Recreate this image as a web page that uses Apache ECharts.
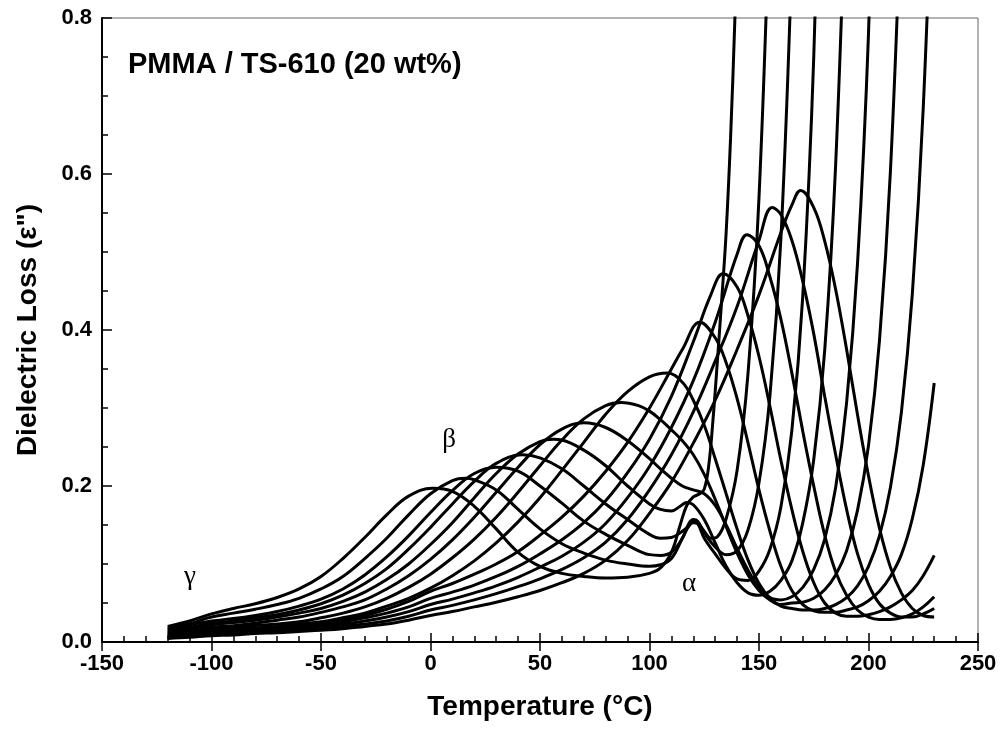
<!DOCTYPE html>
<html>
<head>
<meta charset="utf-8">
<script src="https://cdn.jsdelivr.net/npm/echarts@6/dist/echarts.min.js"></script>
<style>
html, body { margin: 0; padding: 0; background: #fff; }
#chart { width: 1002px; height: 740px; }
</style>
</head>
<body>
<div id="chart"></div>
<script>
// axis ranges
var tempRange = [-150, 250];
var lossRange = [0, 0.8];

// dielectric loss vs temperature, one array per frequency (low -> high)
var loss1 = [[-120,.020],[-110,.027],[-100,.036],[-90,.043],[-80,.049],[-70,.057],[-60,.068],[-50,.084],[-40,.107],[-30,.134],[-20,.163],[-10,.187],[1,.197],[10,.193],[20,.174],[30,.145],[40,.115],[50,.097],[60,.088],[70,.084],[80,.082],[90,.083],[100,.088],[105,.095],[110,.115],[114,.15],[117,.175],[120,.186],[123,.19],[125,.196],[127,.225],[129,.285],[131,.36],[133,.44],[135,.525],[137,.645],[139,.80],[141,.98]];
var loss2 = [[-120,.018],[-110,.0235],[-100,.032],[-90,.037],[-80,.042],[-70,.048],[-60,.056],[-50,.068],[-40,.084],[-30,.107],[-20,.133],[-10,.163],[0,.19],[10,.207],[16,.21],[20,.208],[30,.195],[40,.17],[50,.145],[60,.126],[70,.114],[80,.105],[90,.1],[100,.097],[105,.099],[110,.107],[115,.133],[118,.149],[120,.153],[122,.152],[125,.142],[128,.133],[131,.135],[135,.158],[140,.22],[145,.345],[150,.57],[155,.96]];
var loss3 = [[-120,.0165],[-110,.022],[-100,.027],[-90,.03],[-80,.034],[-70,.039],[-60,.046],[-50,.055],[-40,.068],[-30,.086],[-20,.109],[-10,.136],[0,.166],[10,.194],[20,.216],[30,.224],[40,.219],[50,.2],[60,.178],[70,.155],[80,.138],[90,.124],[100,.112],[105,.111],[110,.115],[115,.133],[118,.152],[120,.157],[122,.155],[125,.14],[130,.122],[135,.112],[140,.117],[145,.144],[150,.204],[155,.316],[160,.517],[165,.876]];
var loss4 = [[-120,.015],[-110,.019],[-100,.024],[-90,.027],[-80,.031],[-70,.035],[-60,.041],[-50,.049],[-40,.06],[-30,.075],[-20,.094],[-10,.119],[0,.147],[10,.177],[20,.206],[30,.229],[42,.24],[50,.236],[60,.222],[70,.2],[80,.177],[90,.157],[100,.138],[105,.133],[110,.134],[115,.142],[118,.149],[120,.155],[122,.152],[125,.133],[130,.113],[135,.094],[140,.081],[145,.079],[150,.091],[155,.119],[160,.173],[165,.271],[170,.444],[175,.75],[180,1.28]];
var loss5 = [[-120,.0135],[-110,.017],[-100,.022],[-90,.025],[-80,.028],[-70,.032],[-60,.037],[-50,.043],[-40,.052],[-30,.064],[-20,.08],[-10,.1],[0,.125],[10,.153],[20,.185],[30,.216],[40,.241],[50,.257],[56,.26],[60,.259],[70,.246],[80,.226],[90,.2],[100,.177],[105,.17],[110,.168],[114,.174],[117,.179],[120,.176],[125,.157],[130,.127],[135,.097],[140,.076],[145,.063],[150,.06],[155,.065],[160,.079],[165,.104],[170,.153],[175,.234],[180,.374],[185,.612],[190,1.01]];
var loss6 = [[-120,.012],[-110,.015],[-100,.019],[-90,.021],[-80,.024],[-70,.028],[-60,.032],[-50,.038],[-40,.045],[-30,.054],[-20,.068],[-10,.085],[0,.106],[10,.131],[20,.16],[30,.192],[40,.224],[50,.253],[60,.273],[70,.281],[80,.275],[90,.258],[100,.235],[105,.222],[110,.21],[115,.2],[120,.195],[125,.19],[130,.175],[135,.15],[140,.12],[145,.092],[150,.07],[155,.057],[160,.054],[165,.058],[170,.07],[175,.093],[180,.132],[185,.198],[190,.307],[195,.486],[200,.78],[205,1.27]];
var loss7 = [[-120,.0105],[-110,.013],[-100,.017],[-90,.019],[-80,.021],[-70,.023],[-60,.026],[-50,.031],[-40,.037],[-30,.045],[-20,.056],[-10,.07],[0,.087],[10,.108],[20,.132],[30,.16],[40,.192],[50,.226],[60,.259],[70,.286],[80,.303],[87,.307],[95,.303],[100,.296],[105,.285],[110,.272],[115,.258],[120,.24],[125,.215],[130,.183],[135,.148],[140,.114],[145,.086],[150,.066],[155,.054],[160,.048],[165,.05],[170,.051],[175,.056],[180,.067],[185,.086],[190,.117],[195,.169],[200,.252],[205,.386],[210,.603],[215,.953]];
var loss8 = [[-120,.0095],[-110,.011],[-100,.014],[-90,.016],[-80,.018],[-70,.02],[-60,.023],[-50,.026],[-40,.031],[-30,.037],[-20,.046],[-10,.056],[0,.069],[10,.085],[20,.104],[30,.127],[40,.154],[50,.185],[60,.22],[70,.256],[80,.292],[90,.321],[100,.34],[108,.345],[115,.333],[120,.31],[125,.278],[130,.235],[135,.19],[140,.145],[145,.105],[150,.075],[155,.056],[160,.046],[165,.043],[170,.041],[175,.041],[180,.043],[185,.048],[190,.057],[195,.072],[200,.097],[205,.136],[210,.198],[215,.294],[220,.446],[225,.685],[230,1.06]];
var loss9 = [[-120,.0085],[-110,.011],[-100,.013],[-90,.015],[-80,.017],[-70,.019],[-60,.021],[-50,.024],[-40,.028],[-30,.034],[-20,.042],[-10,.052],[0,.065],[10,.075],[20,.087],[30,.1],[40,.116],[50,.137],[60,.16],[70,.187],[80,.219],[90,.256],[100,.3],[110,.35],[115,.375],[123,.41],[130,.39],[135,.358],[140,.312],[145,.255],[150,.195],[155,.142],[160,.097],[165,.066],[170,.048],[175,.04],[180,.038],[185,.038],[190,.041],[195,.045],[200,.053],[205,.065],[210,.084],[215,.112],[220,.158],[225,.227],[230,.332]];
var loss10 = [[-120,.0075],[-110,.0095],[-100,.012],[-90,.0135],[-80,.0155],[-70,.0175],[-60,.0195],[-50,.022],[-40,.026],[-30,.031],[-20,.037],[-10,.045],[0,.056],[10,.064],[20,.073],[30,.084],[40,.097],[50,.113],[60,.131],[70,.153],[80,.181],[90,.217],[100,.26],[110,.315],[120,.385],[128,.445],[133.6,.472],[140,.455],[145,.418],[150,.366],[155,.302],[160,.233],[165,.17],[170,.116],[175,.076],[180,.05],[185,.037],[190,.033],[195,.033],[200,.035],[205,.039],[210,.045],[215,.054],[220,.066],[225,.085],[230,.111]];
var loss11 = [[-120,.0065],[-110,.0085],[-100,.011],[-90,.0125],[-80,.014],[-70,.016],[-60,.018],[-50,.02],[-40,.023],[-30,.027],[-20,.032],[-10,.039],[0,.048],[10,.055],[20,.063],[30,.072],[40,.083],[50,.096],[60,.11],[70,.128],[80,.152],[90,.185],[100,.225],[110,.275],[120,.335],[130,.41],[140,.497],[144.5,.522],[150,.508],[155,.468],[160,.414],[165,.345],[170,.27],[175,.2],[180,.137],[185,.09],[190,.06],[195,.041],[200,.032],[205,.029],[210,.029],[215,.031],[220,.036],[225,.045],[230,.058]];
var loss12 = [[-120,.0055],[-110,.0075],[-100,.0095],[-90,.011],[-80,.0125],[-70,.014],[-60,.0155],[-50,.017],[-40,.02],[-30,.023],[-20,.027],[-10,.033],[0,.041],[10,.047],[20,.054],[30,.062],[40,.071],[50,.081],[60,.093],[70,.108],[80,.128],[90,.157],[100,.195],[110,.24],[120,.295],[130,.36],[140,.43],[150,.515],[156,.557],[160,.548],[165,.515],[170,.462],[175,.395],[180,.315],[185,.24],[190,.17],[195,.113],[200,.074],[205,.049],[210,.037],[215,.032],[220,.032],[225,.036],[230,.043]];
var loss13 = [[-120,.0045],[-110,.006],[-100,.008],[-90,.009],[-80,.011],[-70,.012],[-60,.0135],[-50,.015],[-40,.017],[-30,.02],[-20,.023],[-10,.028],[0,.034],[10,.039],[20,.045],[30,.051],[40,.058],[50,.066],[60,.076],[70,.088],[80,.105],[90,.13],[100,.165],[110,.205],[120,.255],[130,.31],[140,.375],[150,.445],[160,.525],[165,.56],[169,.579],[175,.557],[180,.514],[185,.452],[190,.375],[195,.291],[200,.213],[205,.146],[210,.096],[215,.063],[220,.043],[225,.034],[230,.032]];

var curves = [loss1, loss2, loss3, loss4, loss5, loss6, loss7, loss8, loss9, loss10, loss11, loss12, loss13];

var labelFont = { color: '#000', fontFamily: 'Liberation Sans', fontWeight: 'bold', fontSize: 22 };
var nameFont = { color: '#000', fontFamily: 'Liberation Sans', fontWeight: 'bold', fontSize: 28 };
var greekFont = '27px "Liberation Serif"';

var myChart = echarts.init(document.getElementById('chart'));

var series = [];
for (var i = 0; i < curves.length; i++) {
    series.push({
        type: 'line',
        xAxisIndex: 0,
        yAxisIndex: 0,
        data: curves[i],
        symbol: 'none',
        smooth: 0.4,
        clip: true,
        lineStyle: { color: '#000', width: 3 }
    });
}

var gridBox = { left: 102, right: 24, top: 18, bottom: 98 };

var option = {
    animation: false,
    backgroundColor: '#fff',
    grid: [
        { left: gridBox.left, right: gridBox.right, top: gridBox.top, bottom: gridBox.bottom,
          show: true, borderColor: '#666', borderWidth: 1 },
        { left: gridBox.left, right: gridBox.right, top: gridBox.top, bottom: gridBox.bottom }
    ],
    xAxis: [
        {
            gridIndex: 0, type: 'value', min: tempRange[0], max: tempRange[1], interval: 50,
            axisLine: { onZero: false, lineStyle: { color: '#000', width: 2 } },
            axisTick: { inside: false, length: 9, lineStyle: { color: '#000', width: 1.5 } },
            splitLine: { show: false },
            axisLabel: Object.assign({ margin: 11 }, labelFont),
            name: 'Temperature (°C)', nameLocation: 'middle', nameGap: 51,
            nameTextStyle: nameFont
        },
        {
            // inner ticks (major + minor) drawn on an identical overlay grid
            gridIndex: 1, type: 'value', min: tempRange[0], max: tempRange[1], interval: 50,
            axisLine: { show: false, onZero: false },
            axisTick: { inside: true, length: 9, lineStyle: { color: '#000', width: 1.5 } },
            minorTick: { show: true, splitNumber: 5, length: 6, lineStyle: { color: '#000', width: 1.5 } },
            axisLabel: { show: false },
            splitLine: { show: false }
        }
    ],
    yAxis: [
        {
            gridIndex: 0, type: 'value', min: lossRange[0], max: lossRange[1], interval: 0.2,
            axisLine: { onZero: false, lineStyle: { color: '#000', width: 2 } },
            axisTick: { inside: true, length: 10, lineStyle: { color: '#000', width: 1.5 } },
            minorTick: { show: true, splitNumber: 4, length: 6, lineStyle: { color: '#000', width: 1.5 } },
            splitLine: { show: false },
            axisLabel: Object.assign({ margin: 10, formatter: function (v) { return v.toFixed(1); } }, labelFont),
            name: 'Dielectric Loss (ε")', nameLocation: 'middle', nameGap: 60,
            nameTextStyle: nameFont
        },
        { gridIndex: 1, type: 'value', min: 0, max: 1, show: false, axisLine: { onZero: false } }
    ],
    graphic: [
        { type: 'text', left: 128, top: 50,
          style: { text: 'PMMA / TS-610 (20 wt%)', font: 'bold 29px "Liberation Sans"', fill: '#000' } },
        { type: 'text', x: 190, y: 577, style: { text: 'γ', font: greekFont, fill: '#000', align: 'center', verticalAlign: 'middle' } },
        { type: 'text', x: 449, y: 440, style: { text: 'β', font: greekFont, fill: '#000', align: 'center', verticalAlign: 'middle' } },
        { type: 'text', x: 689, y: 584, style: { text: 'α', font: greekFont, fill: '#000', align: 'center', verticalAlign: 'middle' } }
    ],
    series: series
};

myChart.setOption(option);
</script>
</body>
</html>
